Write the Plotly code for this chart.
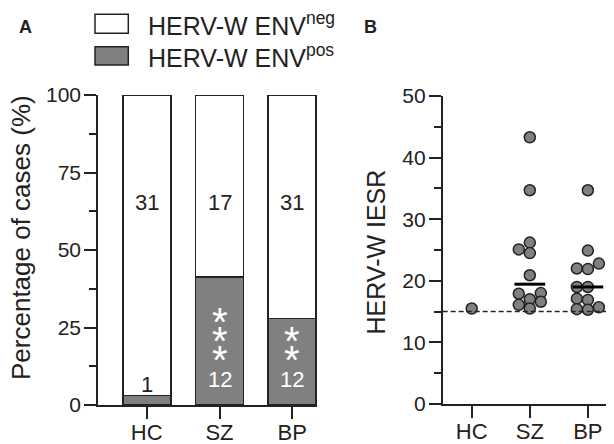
import numpy as np
import plotly.graph_objects as go

# ---------------- data ----------------
groups = ["HC", "SZ", "BP"]
env_neg = [31, 17, 31]          # HERV-W ENV negative cases
env_pos = [1, 12, 12]           # HERV-W ENV positive cases
significance = ["", "***", "**"]
y_ticks_a = [0, 25, 50, 75, 100]

iesr_hc = [15.5]
iesr_sz = [43.3, 34.7, 26.2, 25.1, 24.5, 20.9, 18.0, 17.9, 17.0, 16.6, 16.1, 15.5]
iesr_bp = [34.7, 24.9, 22.8, 22.0, 21.9, 19.0, 19.0, 17.1, 16.9, 15.7, 15.4, 15.3]
iesr_cutoff = 15
y_ticks_b = [0, 10, 20, 30, 40, 50]

legend_labels = ["HERV-W ENV<sup>neg</sup>", "HERV-W ENV<sup>pos</sup>"]

# ---------------- style ----------------
OFF = 8                      # page body margin
W, H = 614 - OFF, 444 - OFF  # figure size
INK = "#222222"
GRAY = "#808080"
FONT = "Liberation Sans, Arial, sans-serif"

def px_x(p):
    return (p - OFF) / W

def px_y(p):
    return 1 - (p - OFF) / H

pos_pct = [p / (p + n) * 100 for p, n in zip(env_pos, env_neg)]
neg_pct = [100 - v for v in pos_pct]

fig = go.Figure()

# Panel A: stacked bars
fig.add_trace(go.Bar(x=groups, y=pos_pct, width=0.66, marker=dict(color=GRAY, line=dict(color=INK, width=1.6)),
                     xaxis="x", yaxis="y", hoverinfo="skip"))
fig.add_trace(go.Bar(x=groups, y=neg_pct, width=0.66, marker=dict(color="white", line=dict(color=INK, width=1.6)),
                     xaxis="x", yaxis="y", hoverinfo="skip"))

annotations = []
NEG_LABEL_Y = 65.2
POS_LABEL_Y = 8.3
for g, n, p, pp, sig in zip(groups, env_neg, env_pos, pos_pct, significance):
    annotations.append(dict(x=g, y=NEG_LABEL_Y, xref="x", yref="y", text=str(n), showarrow=False,
                            font=dict(family=FONT, size=22, color=INK)))
    inside = pp > 12
    ly = POS_LABEL_Y if inside else pp + 3.4
    annotations.append(dict(x=g, y=ly, xref="x", yref="y", text=str(p), showarrow=False,
                            font=dict(family=FONT, size=22, color="white" if inside else INK)))
    for k in range(len(sig)):
        annotations.append(dict(x=g, y=POS_LABEL_Y, xref="x", yref="y", text="*", showarrow=False,
                                yshift=19.7 + 18.6 * k, yanchor="middle",
                                font=dict(family=FONT, size=40, color="white")))

# Panel B: swarm
PX_PER_X = 58.0
PX_PER_Y = 6.16
STEP = 11.0
MIN_D = 8.25

def swarm(values):
    vals = np.asarray(values, dtype=float)
    order = np.argsort(vals, kind="stable")
    placed = []
    offs = np.zeros(len(vals))
    for idx in order:
        yv = vals[idx] * PX_PER_Y
        xv = 0.0
        for k in [0, -1, 1, -2, 2, -3, 3]:
            xv = k * STEP
            if all(np.hypot(xv - a, yv - b) >= MIN_D for a, b in placed):
                break
        placed.append((xv, yv))
        offs[idx] = xv / PX_PER_X
    return offs

series_b = [iesr_hc, iesr_sz, iesr_bp]
for i, vals in enumerate(series_b):
    offs = swarm(vals)
    fig.add_trace(go.Scatter(x=i + offs, y=vals, mode="markers", xaxis="x2", yaxis="y2",
                             marker=dict(size=11, color=GRAY, line=dict(color=INK, width=1.5)),
                             hoverinfo="skip"))
for i, vals in enumerate(series_b):
    if len(vals) > 1:
        med = float(np.median(vals))
        fig.add_trace(go.Scatter(x=[i - 0.265, i + 0.265], y=[med, med], mode="lines", xaxis="x2", yaxis="y2",
                                 line=dict(color="black", width=3), hoverinfo="skip"))

shapes = [
    dict(type="line", xref="x2 domain", yref="y2", x0=0, x1=1, y0=iesr_cutoff, y1=iesr_cutoff,
         line=dict(color=INK, width=1.5, dash="5px,3px")),
]

# legend (drawn)
legend_boxes = [(14.3, 33.3, "white"), (46.7, 65.0, GRAY)]
for (t, b, c), lab in zip(legend_boxes, legend_labels):
    shapes.append(dict(type="rect", xref="paper", yref="paper", x0=px_x(95), x1=px_x(128.3),
                       y0=px_y(b), y1=px_y(t), fillcolor=c, line=dict(color=INK, width=1.5)))
    annotations.append(dict(x=px_x(146), y=px_y((t + b) / 2), xref="paper", yref="paper", text=lab,
                            showarrow=False, xanchor="left", yanchor="middle",
                            font=dict(family=FONT, size=25, color=INK)))

# panel letters and axis titles
annotations += [
    dict(x=px_x(25), y=px_y(27), xref="paper", yref="paper", text="<b>A</b>", showarrow=False,
         xanchor="center", yanchor="middle", font=dict(family=FONT, size=18, color=INK)),
    dict(x=px_x(370), y=px_y(27), xref="paper", yref="paper", text="<b>B</b>", showarrow=False,
         xanchor="center", yanchor="middle", font=dict(family=FONT, size=18, color=INK)),
    dict(x=px_x(21), y=px_y(238), xref="paper", yref="paper", text="Percentage of cases (%)",
         showarrow=False, textangle=-90, xanchor="center", yanchor="middle",
         font=dict(family=FONT, size=26, color=INK)),
    dict(x=px_x(375), y=px_y(251.5), xref="paper", yref="paper", text="HERV-W IESR",
         showarrow=False, textangle=-90, xanchor="center", yanchor="middle",
         font=dict(family=FONT, size=25, color=INK)),
]

axis_common = dict(showline=True, linewidth=1.6, linecolor=INK, showgrid=False, zeroline=False,
                   ticks="outside", tickwidth=1.6, tickcolor=INK, ticklen=12, automargin=False)

fig.update_layout(
    width=W, height=H, margin=dict(l=0, r=0, t=0, b=0),
    paper_bgcolor="white", plot_bgcolor="white", showlegend=False, barmode="stack",
    font=dict(family=FONT, color=INK),
    xaxis=dict(domain=[px_x(98), px_x(317)], range=[-0.67, 2.34], type="category",
               tickfont=dict(size=22, color=INK), anchor="y", ticklabelstandoff=-5, **axis_common),
    yaxis=dict(domain=[px_y(405), px_y(95)], range=[0, 100], tickvals=y_ticks_a,
               tickfont=dict(size=21, color=INK), anchor="x", ticklabelstandoff=-1,
               minor=dict(ticklen=7, tickwidth=1.6, tickcolor=INK, dtick=12.5, tick0=0, ticks="outside"),
               **axis_common),
    xaxis2=dict(domain=[px_x(442.7), 1.0], range=[-0.5, 2.45], tickvals=[0, 1, 2], ticktext=groups,
                tickfont=dict(size=22, color=INK), anchor="y2", ticklabelstandoff=-5, **axis_common),
    yaxis2=dict(domain=[px_y(404), px_y(96)], range=[0, 50], tickvals=y_ticks_b,
                tickfont=dict(size=21, color=INK), anchor="x2", ticklabelstandoff=-1,
                minor=dict(ticklen=7, tickwidth=1.6, tickcolor=INK, dtick=5, tick0=0, ticks="outside"),
                **axis_common),
    shapes=shapes, annotations=annotations,
)

fig.write_html("out.html")
